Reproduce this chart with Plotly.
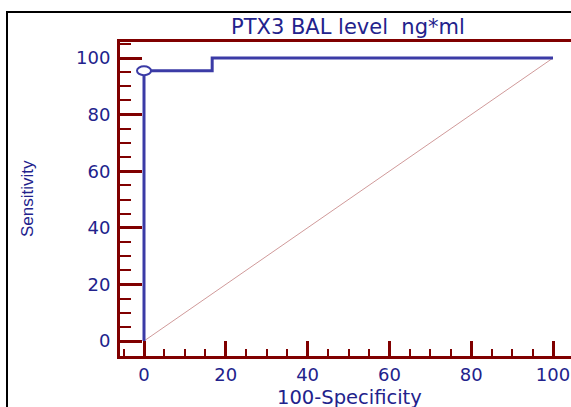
import plotly.graph_objects as go

# ROC curve data
fpr = [0, 0, 16.67, 16.67, 100]          # 100-Specificity
tpr = [0, 95.5, 95.5, 100, 100]          # Sensitivity
diag_x = [0, 100]
diag_y = [0, 100]
cut_x = 0
cut_y = 95.5
x_ticks = [0, 20, 40, 60, 80, 100]
y_ticks = [0, 20, 40, 60, 80, 100]
title_text = "PTX3 BAL level  ng*ml"
x_title = "100-Specificity"
y_title = "Sensitivity"

W, H = 571, 407
ML, MT, MR = 120, 42, 0
MB = H - 356
PW, PH = W - ML - MR, H - MT - MB

def px_x(p):
    return (p - ML) / PW

def px_y(p):
    return (H - MB - p) / PH

axis_col = "#800000"
text_col = "#22228c"
line_col = "#3b3ba6"
font_h = "DejaVu Sans"

fig = go.Figure()
fig.add_trace(go.Scatter(x=diag_x, y=diag_y, mode="lines",
                         line=dict(color="#d09a9a", width=1), hoverinfo="skip"))
fig.add_trace(go.Scatter(x=fpr, y=tpr, mode="lines",
                         line=dict(color=line_col, width=3), hoverinfo="skip"))

# cut-off point marker (ellipse anchored at data point)
fig.add_shape(type="circle", xref="x", yref="y", xsizemode="pixel", ysizemode="pixel",
              xanchor=cut_x, yanchor=cut_y, x0=-7, x1=7, y0=-4.5, y1=4.5,
              line=dict(color=line_col, width=2), fillcolor="white")

# outer frame: left and top edges only (the rest is outside the picture)
fig.add_shape(type="line", xref="paper", yref="paper",
              x0=px_x(7), x1=px_x(7), y0=px_y(H + 5), y1=px_y(11),
              line=dict(color="black", width=2), layer="below")
fig.add_shape(type="line", xref="paper", yref="paper",
              x0=px_x(6), x1=px_x(W + 5), y0=px_y(12), y1=px_y(12),
              line=dict(color="black", width=2), layer="below")

fig.add_annotation(text=title_text, xref="paper", yref="paper",
                   x=px_x(347.5), y=px_y(27), xanchor="center", yanchor="middle",
                   showarrow=False, font=dict(family=font_h, size=21, color=text_col))
fig.add_annotation(text=x_title, xref="paper", yref="paper",
                   x=px_x(349), y=px_y(397), xanchor="center", yanchor="middle",
                   showarrow=False, font=dict(family=font_h, size=19.5, color=text_col))
fig.add_annotation(text=y_title, xref="paper", yref="paper", textangle=-90,
                   x=px_x(27), y=px_y(199), xanchor="center", yanchor="middle",
                   showarrow=False, font=dict(family="Liberation Sans", size=17, color=text_col))

x0px, xppu = 144, 4.09
y0px, yppu = 341, 2.83
xr = [(ML - x0px) / xppu, (W - MR - x0px) / xppu]
yr = [(y0px - (H - MB)) / yppu, (y0px - MT) / yppu]

fig.update_layout(
    width=W, height=H,
    margin=dict(l=ML, r=MR, t=MT, b=MB, pad=0),
    paper_bgcolor="white", plot_bgcolor="white",
    showlegend=False,
    xaxis=dict(range=xr, showgrid=False, zeroline=False,
               showline=True, linecolor=axis_col, linewidth=3, mirror=True,
               tickmode="array", tickvals=x_ticks,
               ticks="inside", ticklen=15, tickwidth=3, tickcolor=axis_col,
               minor=dict(dtick=5, tick0=0, ticks="inside", ticklen=7, tickwidth=2,
                          tickcolor=axis_col, showgrid=False),
               tickfont=dict(family=font_h, size=18, color=text_col)),
    yaxis=dict(range=yr, showgrid=False, zeroline=False,
               showline=True, linecolor=axis_col, linewidth=3, mirror=False,
               tickmode="array", tickvals=y_ticks,
               ticks="inside", ticklen=22, tickwidth=2.5, tickcolor=axis_col,
               ticklabelstandoff=3,
               minor=dict(dtick=5, tick0=0, ticks="inside", ticklen=11, tickwidth=2,
                          tickcolor=axis_col, showgrid=False),
               tickfont=dict(family=font_h, size=18, color=text_col)),
)

fig.write_html(
    "out.html",
    config={"displayModeBar": False},
    post_script="document.body.style.margin='0';document.body.style.overflow='hidden';",
)
